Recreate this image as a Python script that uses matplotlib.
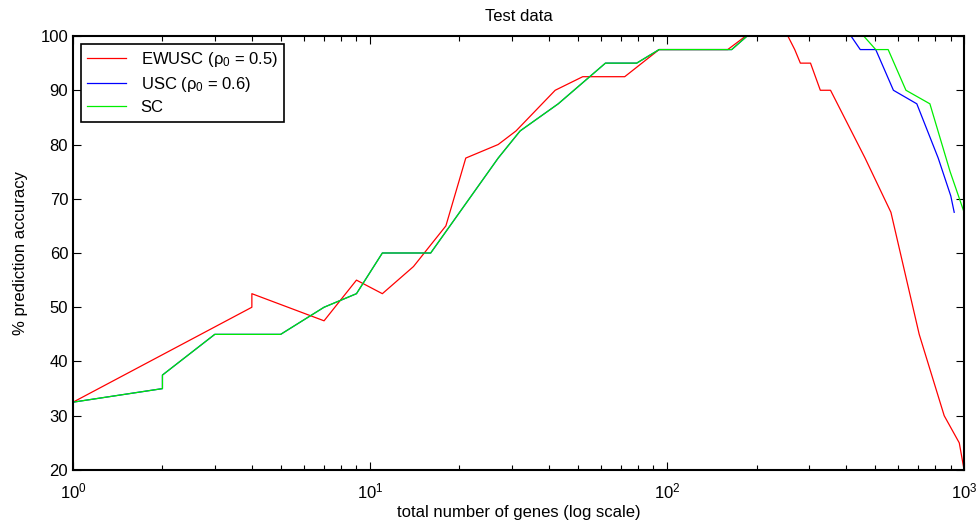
import matplotlib
matplotlib.use("Agg")
from matplotlib import pyplot as plt

plt.rcParams['font.family'] = ['Liberation Sans', 'DejaVu Sans']
plt.rcParams['mathtext.fontset'] = 'custom'
plt.rcParams['mathtext.rm'] = 'Liberation Sans'
plt.rcParams['mathtext.it'] = 'Liberation Sans:italic'
plt.rcParams['font.size'] = 12

# EWUSC (rho0 = 0.5)
ewusc_x = [1, 4, 4, 7, 9, 11, 14, 18, 21, 27, 31, 42, 52, 72, 94, 160, 184,
           255, 269, 281, 304, 328, 355, 464, 567, 706, 857, 963, 1000]
ewusc_y = [32.5, 50, 52.5, 47.5, 55, 52.5, 57.5, 65, 77.5, 80, 82.5, 90, 92.5,
           92.5, 97.5, 97.5, 100, 100, 97.5, 95, 95, 90, 90, 77.5, 67.5, 45,
           30, 25, 20]

# USC (rho0 = 0.6)
usc_x = [1, 2, 2, 3, 5, 7, 9, 11, 16, 27, 32, 43, 62, 79, 94, 165, 186,
         416, 447, 504, 578, 693, 818, 902, 926]
usc_y = [32.5, 35, 37.5, 45, 45, 50, 52.5, 60, 60, 77.5, 82.5, 87.5, 95, 95,
         97.5, 97.5, 100, 100, 97.5, 97.5, 90, 87.5, 77.5, 70.5, 67.5]

# SC
sc_x = [1, 2, 2, 3, 5, 7, 9, 11, 16, 27, 32, 43, 62, 79, 94, 165, 186,
        459, 504, 555, 637, 767, 897, 1000]
sc_y = [32.5, 35, 37.5, 45, 45, 50, 52.5, 60, 60, 77.5, 82.5, 87.5, 95, 95,
        97.5, 97.5, 100, 100, 97.5, 97.5, 90, 87.5, 75, 67.5]

fig = plt.figure(figsize=(9.79, 5.25), dpi=100)
ax = fig.add_axes([0.0746, 0.1048, 0.9102, 0.8266])

ax.plot(ewusc_x, ewusc_y, color='#ff0000', lw=0.9, label='EWUSC (ρ$_0$ = 0.5)')
ax.plot(usc_x, usc_y, color='#0000ff', lw=0.9, label='USC (ρ$_0$ = 0.6)')
ax.plot(sc_x, sc_y, color='#00ee00', lw=0.9, label='SC')

ax.set_xscale('log')
ax.set_xlim(1, 1000)
ax.set_ylim(20, 100)
ax.set_yticks(range(20, 101, 10))

ax.tick_params(which='both', direction='in', top=True, right=True, labelsize=12)
ax.tick_params(which='major', length=6, width=0.8)
ax.tick_params(which='minor', length=3.5, width=0.8)
ax.tick_params(axis='x', pad=8)
for s in ax.spines.values():
    s.set_linewidth(1.5)

ax.set_title("Test data", fontsize=12, pad=11)
ax.set_xlabel("total number of genes (log scale)", fontsize=12, labelpad=3)
ax.set_ylabel("% prediction accuracy", fontsize=12, labelpad=9)

leg = ax.legend(loc='upper left', fancybox=False, framealpha=1, edgecolor='black',
                borderaxespad=0.45, handlelength=2.3, borderpad=0.4, labelspacing=0.35,
                handletextpad=0.9, fontsize=12)
leg.get_frame().set_linewidth(1.2)

plt.savefig("out.png", dpi=100)
plt.close()
